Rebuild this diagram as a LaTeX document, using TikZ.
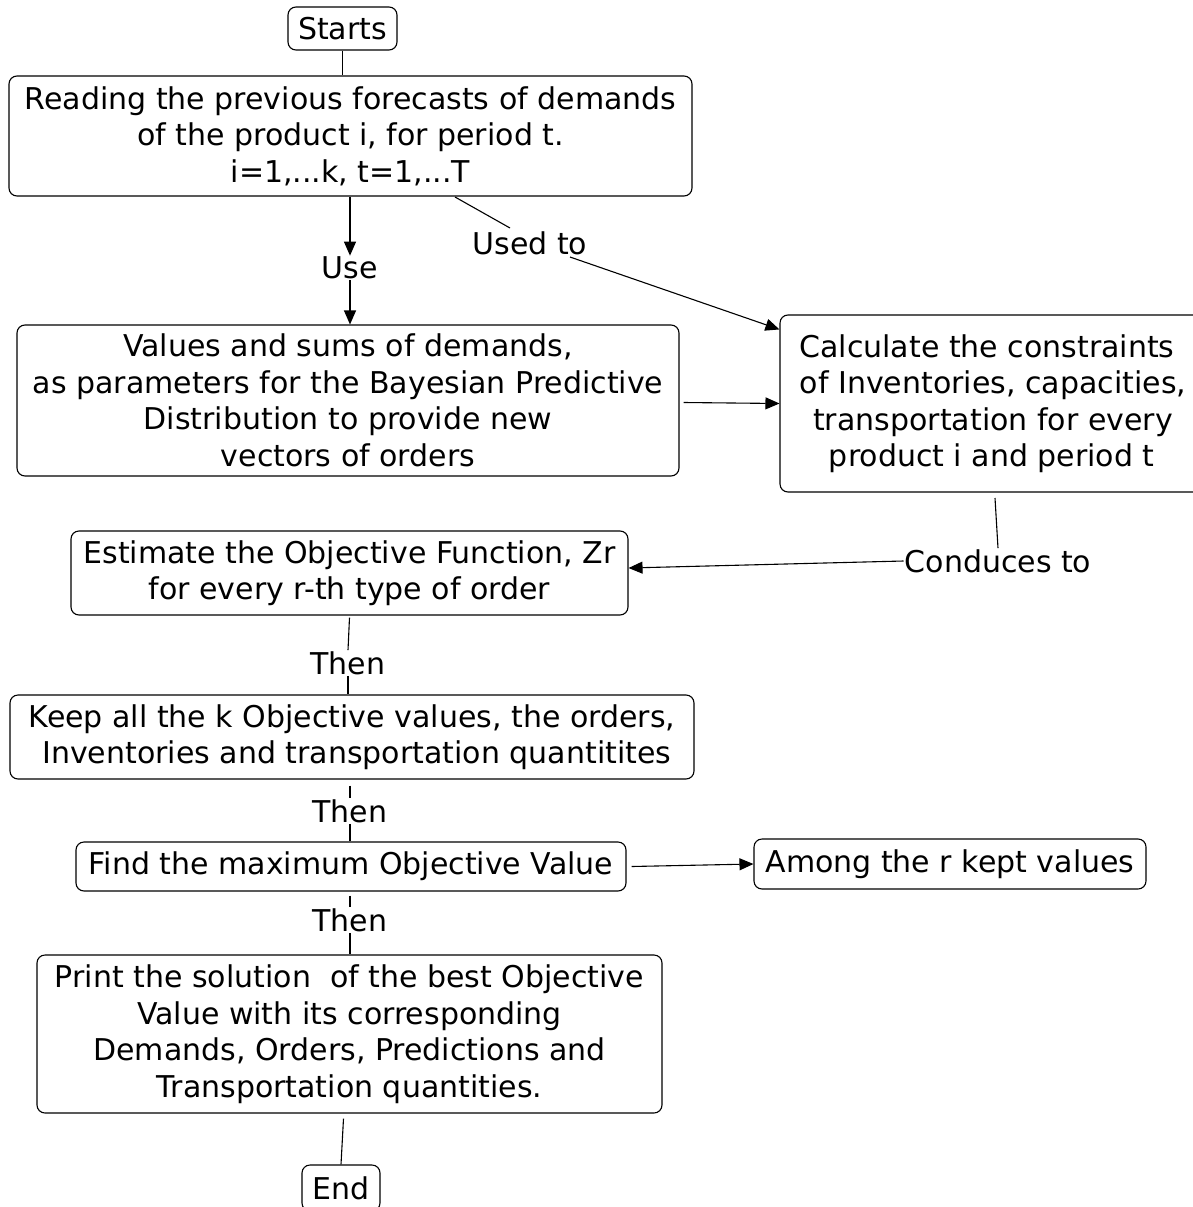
\documentclass[tikz,border=0pt]{standalone}
\usepackage{fontspec}
\setmainfont{DejaVu Sans}
\usetikzlibrary{arrows.meta,calc}
\tikzset{
  box/.style={draw, rounded corners=8pt, line width=1.1pt, inner sep=0pt,
    align=center, font=\fontsize{30}{36.5}\selectfont},
  lbl/.style={inner sep=1pt, font=\fontsize{30}{36.5}\selectfont},
  link/.style={line width=1.1pt},
  arr/.style={line width=1.1pt, -{Triangle[length=14pt,width=12pt]}},
}
\newcommand{\padR}{\hspace*{12pt}}
\begin{document}
\begin{tikzpicture}[x=1pt,y=-1pt]
\useasboundingbox (0,0) rectangle (1192,1207);

% process boxes
\node[box, minimum width=109pt, minimum height=43pt] (start) at (342.5,28.5) {Starts};
\node[box, minimum width=683pt, minimum height=120pt] (read) at (350.5,136)
  {Reading the previous forecasts of demands\\of the product i, for period t.\\i=1,...k, t=1,...T};
\node[box, minimum width=662pt, minimum height=151pt] (values) at (348,400.5)
  {Values and sums of demands,\\as parameters for the Bayesian Predictive\\Distribution to provide new\\vectors of orders};
\node[box, minimum width=426pt, minimum height=177pt] (calc) at (993,403.5)
  {Calculate the constraints\padR\\of Inventories, capacities,\padR\\transportation for every\padR\\\ product i and period t\padR};
\node[box, minimum width=557pt, minimum height=84pt] (estim) at (349.5,573)
  {Estimate the Objective Function, Zr\\for every r-th type of order};
\node[box, minimum width=684pt, minimum height=84pt] (keep) at (352,737)
  {Keep all the k Objective values, the orders,\\\ Inventories and transportation quantitites};
\node[box, minimum width=550pt, minimum height=49pt] (find) at (351,866.5)
  {Find the maximum Objective Value};
\node[box, minimum width=392pt, minimum height=50pt] (among) at (950,864)
  {Among the r kept values};
\node[box, minimum width=625pt, minimum height=158pt] (print) at (349.5,1034)
  {Print the solution\ \ of the best Objective\\Value with its corresponding\\Demands, Orders, Predictions and\\Transportation quantities.};
\node[box, minimum width=78pt, minimum height=46pt] (end) at (341,1188) {End};

% connector labels
\node[lbl] (use) at (350,268) {Use};
\node[lbl] (usedto) at (530,243) {Used to};
\node[lbl] (conduces) at (998,561) {Conduces to};
\node[lbl] (then1) at (348,663) {Then};
\node[lbl] (then2) at (350,811) {Then};
\node[lbl] (then3) at (350,920) {Then};

\coordinate (ua) at (455,197);
\coordinate (ub) at (510,228);
\coordinate (uc) at (570,257);

% connectors
\draw[link] (start) -- (read.north -| start);
\draw[arr] (read.south -| use) -- (use.north);
\draw[arr] (use.south) -- (values.north -| use);
\draw[link] (ua) -- (ub);
\draw[arr] (uc) -- ($(calc.north west)+(0,15)$);
\draw[arr] ($(values.east)+(4,2)$) -- (calc.west);
\draw[link] (995,498) -- (conduces.north);
\draw[arr] (conduces.west) -- ($(estim.east)+(0,-5)$);
\draw[link] ($(estim.south)+(0,2)$) -- (then1.north);
\draw[link] (then1.south) -- (keep.north -| then1);
\draw[link] ($(keep.south -| then2)+(0,6)$) -- (then2.north);
\draw[link] (then2.south) -- (find.north -| then2);
\draw[arr] ($(find.east)+(5,0)$) -- (among.west);
\draw[link] ($(find.south -| then3)+(0,4)$) -- (then3.north);
\draw[link] (then3.south) -- (print.north -| then3);
\draw[link] ($(print.south)+(-6,5)$) -- (end.north);
\end{tikzpicture}
\end{document}
